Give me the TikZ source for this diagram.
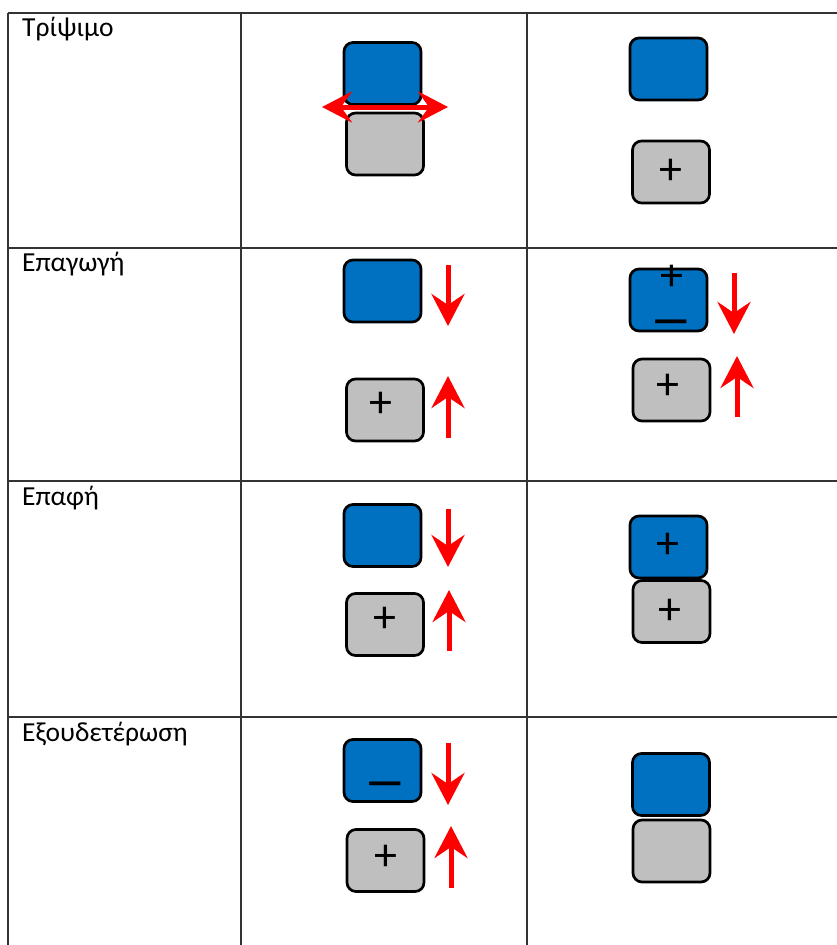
\documentclass[tikz,border=0pt]{standalone}
\usepackage{fontspec}
\setmainfont{Carlito}
\usetikzlibrary{arrows.meta}
\definecolor{boxblue}{HTML}{0070C0}
\definecolor{boxgray}{HTML}{BFBFBF}
\definecolor{rulegray}{HTML}{333333}
\tikzset{
  tabline/.style={draw=rulegray, line width=1.6pt},
  bluebox/.style={draw=black, line width=2.7pt, fill=boxblue, rounded corners=9pt, minimum width=77pt, minimum height=62pt, inner sep=0pt},
  graybox/.style={draw=black, line width=2.7pt, fill=boxgray, rounded corners=9pt, minimum width=77pt, minimum height=62pt, inner sep=0pt},
  redarrow/.style={draw=red, line width=5pt, -{Stealth[length=32pt,width=33pt,inset=11pt]}},
  redboth/.style={draw=red, line width=5pt, {Stealth[length=30pt,width=31pt,inset=11pt]}-{Stealth[length=30pt,width=31pt,inset=11pt]}},
  rowlabel/.style={anchor=base west, inner sep=0pt, font=\fontsize{27.5}{31}\selectfont},
  sign/.style={inner sep=0pt, font=\fontsize{46}{46}\selectfont},
}
\newcommand{\widedash}{\scalebox{1.9}[1.3]{–}}
\begin{document}
\begin{tikzpicture}[x=1pt,y=-1pt]
\useasboundingbox (0,0) rectangle (837,945);
% table
\coordinate (tl) at (8,13); \coordinate (tr) at (837,13);
\coordinate (bl) at (8,945);
\coordinate (c1t) at (241,13); \coordinate (c1b) at (241,945);
\coordinate (c2t) at (527,13); \coordinate (c2b) at (527,945);
\coordinate (r1l) at (8,248); \coordinate (r1r) at (837,248);
\coordinate (r2l) at (8,481); \coordinate (r2r) at (837,481);
\coordinate (r3l) at (8,717); \coordinate (r3r) at (837,717);
\draw[tabline] (tl) -- (tr);
\draw[tabline] (tl) -- (bl);
\draw[tabline] (c1t) -- (c1b);
\draw[tabline] (c2t) -- (c2b);
\draw[tabline] (r1l) -- (r1r);
\draw[tabline] (r2l) -- (r2r);
\draw[tabline] (r3l) -- (r3r);
% labels
\node[rowlabel] (lab1) at (22,36) {Τρίψιμο};
\node[rowlabel] (lab2) at (22,271) {Επαγωγή};
\node[rowlabel] (lab3) at (22,505) {Επαφή};
\node[rowlabel] (lab4) at (22,741) {Εξουδετέρωση};
% row 1
\node[graybox] (g11) at (385,144) {};
\node[bluebox] (b11) at (382.5,73.5) {};
\coordinate (d1a) at (322,107); \coordinate (d1b) at (448,107);
\draw[redboth] (d1a) -- (d1b);
\node[bluebox] (b12) at (668.5,69) {};
\node[graybox] (g12) at (671,172) {};
\node[sign] (p12) at (671,172) {+};
% row 2
\node[bluebox] (b21) at (382.5,291) {};
\node[graybox] (g21) at (385,410) {};
\node[sign] (p21) at (381,405) {+};
\coordinate (a21s) at (448,265); \coordinate (a21e) at (448,326);
\draw[redarrow] (a21s) -- (a21e);
\coordinate (a22s) at (448,438); \coordinate (a22e) at (448,376);
\draw[redarrow] (a22s) -- (a22e);
\node[bluebox] (b22) at (668.5,300) {};
\node[sign] (p22) at (672,278) {+};
\node[sign] (m22) at (671.5,329) {\widedash};
\node[graybox] (g22) at (671.5,390) {};
\node[sign] (p22b) at (668,387) {+};
\coordinate (a23s) at (734,273); \coordinate (a23e) at (734,334);
\draw[redarrow] (a23s) -- (a23e);
\coordinate (a24s) at (737,417); \coordinate (a24e) at (737,356);
\draw[redarrow] (a24s) -- (a24e);
% row 3
\node[bluebox] (b31) at (382.5,535.5) {};
\node[graybox] (g31) at (385,624.5) {};
\node[sign] (p31) at (385,620) {+};
\coordinate (a31s) at (448,509); \coordinate (a31e) at (448,567);
\draw[redarrow] (a31s) -- (a31e);
\coordinate (a32s) at (449,651); \coordinate (a32e) at (449,590);
\draw[redarrow] (a32s) -- (a32e);
\node[graybox] (g32) at (671.5,611.5) {};
\node[bluebox] (b32) at (668.5,547) {};
\node[sign] (p32) at (668,546) {+};
\node[sign] (p32b) at (670,612) {+};
% row 4
\node[bluebox] (b41) at (382.5,770.5) {};
\node[sign] (m41) at (385.5,791) {\widedash};
\node[graybox] (g41) at (385.5,860.5) {};
\node[sign] (p41) at (386,858) {+};
\coordinate (a41s) at (448,743); \coordinate (a41e) at (448,805);
\draw[redarrow] (a41s) -- (a41e);
\coordinate (a42s) at (451,888); \coordinate (a42e) at (451,826);
\draw[redarrow] (a42s) -- (a42e);
\node[graybox] (g42) at (671.5,851) {};
\node[bluebox] (b42) at (671,784.5) {};
\end{tikzpicture}
\end{document}
